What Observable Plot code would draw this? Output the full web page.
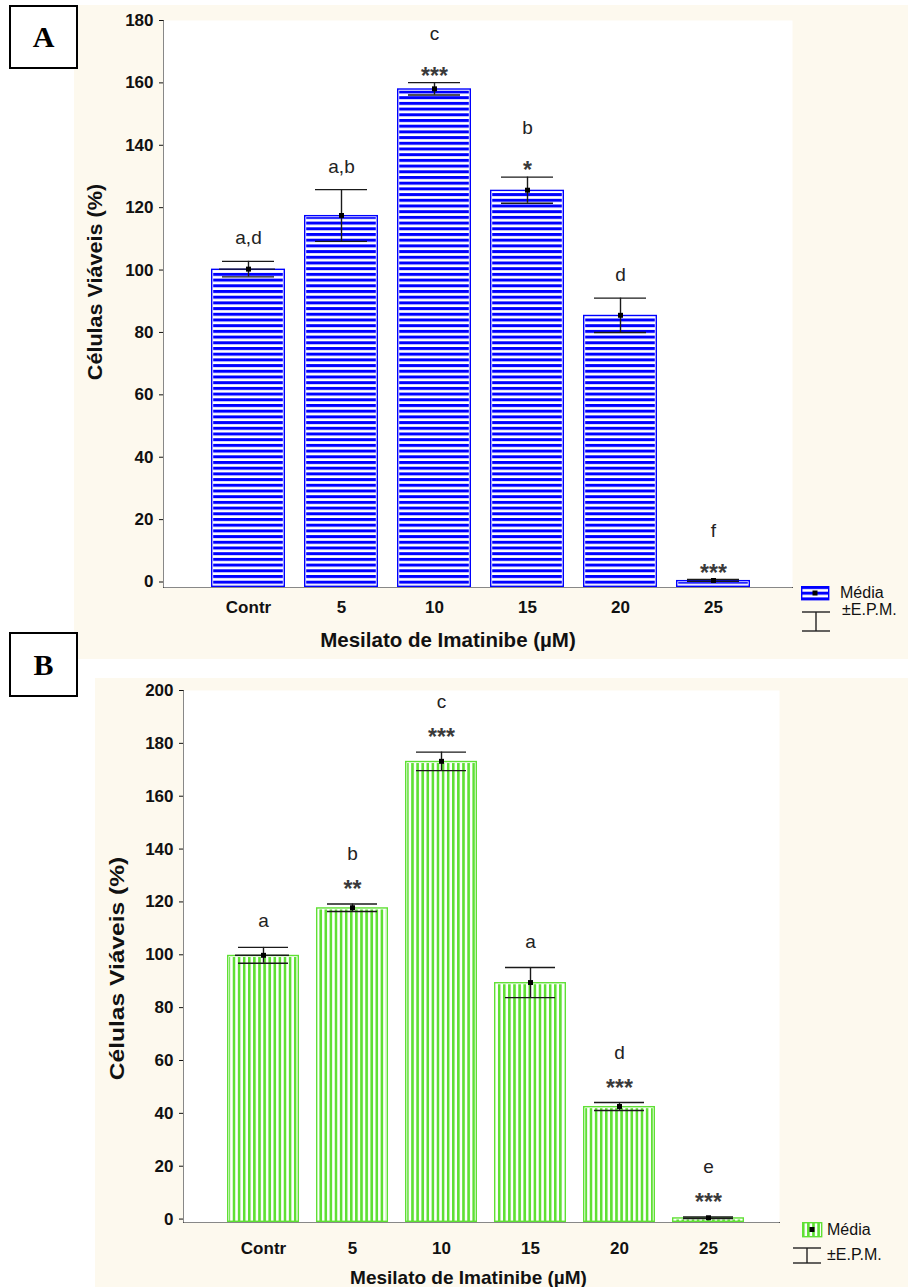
<!DOCTYPE html>
<html>
<head>
<meta charset="utf-8">
<script src="https://cdn.jsdelivr.net/npm/d3@7"></script>
<script src="https://cdn.jsdelivr.net/npm/@observablehq/plot@0.6"></script>
<style>
  body { margin: 0; background: #ffffff; font-family: "Liberation Sans", Arial, sans-serif; }
  #page { position: relative; width: 908px; height: 1287px; overflow: hidden; background: #ffffff; }
  .panel { position: absolute; background: #fdf9ee; }
  .panel svg { display: block; }
  .lbl { position: absolute; left: 9px; width: 65px; border: 2px solid #000; background: #fff;
         font: bold 30px "Liberation Serif", "Times New Roman", serif; color: #000;
         display: flex; align-items: center; justify-content: center; }
  .leg { position: absolute; font: 16px "Liberation Sans", Arial, sans-serif; color: #111; white-space: nowrap; line-height: 1; }
  .legsw { position: absolute; }
</style>
</head>
<body>
<div id="page">
  <div class="panel" id="panelA" style="left:74px;top:5px;width:834px;height:654px;"></div>
  <div class="panel" id="panelB" style="left:95px;top:678px;width:813px;height:609px;"></div>
  <div class="lbl" style="top:5px;height:60px;">A</div>
  <div class="lbl" style="top:632px;height:61px;">B</div>
</div>
<script>
// ---------- data ----------
const doses = ["Contr", "5", "10", "15", "20", "25"];

const meanA = [100.3, 117.5, 158.1, 125.6, 85.5, 0.5];
const semA  = [2.5, 8.3, 2.0, 4.2, 5.5, 0.3];
const lettersA = ["a,d", "a,b", "c", "b", "d", "f"];
const starsA   = ["", "", "***", "*", "", "***"];
const yTicksA  = [0, 20, 40, 60, 80, 100, 120, 140, 160, 180];

const meanB = [99.8, 117.8, 173.2, 89.5, 42.6, 0.5];
const semB  = [3.0, 1.4, 3.5, 5.7, 1.5, 0.3];
const lettersB = ["a", "b", "c", "a", "d", "e"];
const starsB   = ["", "**", "***", "", "***", "***"];
const yTicksB  = [0, 20, 40, 60, 80, 100, 120, 140, 160, 180, 200];

const xTitle = "Mesilato de Imatinibe (µM)";
const yTitle = "Células Viáveis (%)";
const legendLabels = ["Média", "±E.P.M."];

const blue = "#0000ff";
const green = "#5fe034";

function rows(mean, sem, letters, stars) {
  return doses.map((d, i) => ({
    dose: d, mean: mean[i], sem: sem[i],
    lo: mean[i] - sem[i], hi: mean[i] + sem[i],
    letter: letters[i], stars: stars[i]
  }));
}

function makePanel(cfg) {
  const data = rows(cfg.mean, cfg.sem, cfg.letters, cfg.stars);
  const ink = "#1a1a1a";
  const svg = Plot.plot({
    width: cfg.width, height: cfg.height,
    marginLeft: cfg.ml, marginRight: cfg.mr, marginTop: cfg.mt, marginBottom: cfg.mb,
    style: { background: "transparent", fontFamily: "'Liberation Sans', Arial, sans-serif",
             fontSize: "17px", fontWeight: "bold", color: "#111", overflow: "visible" },
    x: { domain: doses, paddingInner: cfg.pi, paddingOuter: cfg.po, align: cfg.align,
         tickSize: -5, tickPadding: cfg.xTickPad, line: true, label: null },
    y: { domain: [cfg.yMin, cfg.yMax], ticks: cfg.yTicks, tickSize: 4, tickPadding: 6,
         line: true, label: null },
    marks: [
      Plot.frame({ fill: "white", stroke: "none" }),
      Plot.barY(data, { x: "dose", y1: cfg.yMin, y2: "mean", fill: `url(#${cfg.pat})`,
                        insetLeft: 2.2, insetRight: 2.2, insetTop: 2.2 }),
      Plot.barY(data, { x: "dose", y1: cfg.yMin, y2: "mean", fill: "none", stroke: cfg.color,
                        strokeWidth: 1.4, inset: 0.7 }),
      Plot.ruleX(data, { x: "dose", y1: "lo", y2: "hi", stroke: ink, strokeWidth: 1.4 }),
      Plot.tickY(data, { x: "dose", y: "hi", stroke: ink, strokeWidth: 1.4, inset: cfg.capInset }),
      Plot.tickY(data, { x: "dose", y: "lo", stroke: ink, strokeWidth: 1.4, inset: cfg.capInset }),
      Plot.tickY(data.filter(d => d.dose === "Contr"),
                 { x: "dose", y: "mean", stroke: ink, strokeWidth: 1.4,
                   insetLeft: cfg.capInset - 3, insetRight: cfg.capInset - 1 }),
      Plot.dot(data, { x: "dose", y: "mean", symbol: "square", r: 2.8, fill: "#000", stroke: "none" }),
      Plot.text(data.filter(d => d.stars), { x: "dose", y: "hi", text: "stars", dy: cfg.dyStars,
                 fontSize: 23, fontWeight: "bold", fill: "#3a3a3a", lineAnchor: "middle" }),
      Plot.text(data.filter(d => d.stars), { x: "dose", y: "hi", text: "letter", dy: cfg.dyLetterS,
                 fontSize: 19, fontWeight: "normal", fill: "#222", lineAnchor: "middle" }),
      Plot.text(data.filter(d => !d.stars), { x: "dose", y: "hi", text: "letter", dy: cfg.dyLetter,
                 fontSize: 19, fontWeight: "normal", fill: "#222", lineAnchor: "middle" }),
      Plot.text([xTitle], { text: d => d, frameAnchor: "bottom", textAnchor: "middle", lineAnchor: "middle",
                 dx: cfg.xtDx, dy: cfg.xtDy, fontSize: cfg.titleSize, fontWeight: "bold", fill: "#111" }),
      Plot.text([yTitle], { text: d => d, frameAnchor: "left", rotate: -90, textAnchor: "middle", lineAnchor: "middle",
                 dx: cfg.ytDx, dy: cfg.ytDy, fontSize: cfg.yTitleSize, fontWeight: "bold", fill: "#111" })
    ]
  });
  // stretch the rotated y title along its reading direction, as in the original
  d3.select(svg).selectAll("text")
    .filter(function () { return this.textContent === yTitle; })
    .attr("transform", function () { return this.getAttribute("transform") + ` scale(${cfg.yTitleStretch},1)`; });
  document.getElementById(cfg.el).appendChild(svg);
  return svg;
}

const svgA = makePanel({
  el: "panelA", mean: meanA, sem: semA, letters: lettersA, stars: starsA,
  width: 834, height: 654, ml: 89, mr: 116, mt: 15, mb: 72,
  pi: 0.2, po: 0.453, align: 0.54, xTickPad: 18,
  yMin: -1.76, yMax: 180, yTicks: yTicksA,
  pat: "hA", color: blue, capInset: 11,
  dyStars: -6, dyLetterS: -49, dyLetter: -23,
  xtDx: -30, xtDy: 53, ytDx: -68, ytDy: -22, titleSize: 20.5, yTitleSize: 20, yTitleStretch: 1.08
});
const svgB = makePanel({
  el: "panelB", mean: meanB, sem: semB, letters: lettersB, stars: starsB,
  width: 813, height: 609, ml: 88, mr: 129, mt: 12, mb: 65,
  pi: 0.193, po: 0.437, align: 0.56, xTickPad: 24,
  yMin: -1.3, yMax: 200, yTicks: yTicksB,
  pat: "vB", color: green, capInset: 11,
  dyStars: -14, dyLetterS: -50, dyLetter: -26,
  xtDx: -13, xtDy: 55, ytDx: -66, ytDy: 12, titleSize: 19, yTitleSize: 21, yTitleStretch: 1.17
});

// stripe patterns
d3.select(svgA).insert("defs", ":first-child").html(
  `<pattern id="hA" patternUnits="userSpaceOnUse" width="10" height="5.7">
     <rect width="10" height="5.7" fill="#ffffff"/><rect width="10" height="3" fill="${blue}"/>
   </pattern>`);
d3.select(svgB).insert("defs", ":first-child").html(
  `<pattern id="vB" patternUnits="userSpaceOnUse" width="5.1" height="10">
     <rect width="5.1" height="10" fill="#ffffff"/><rect width="2.6" height="10" fill="${green}"/>
   </pattern>`);

// legends
function legend(o) {
  const page = d3.select("#page");
  const sw = page.append("svg").attr("class", "legsw").style("left", o.sx + "px").style("top", o.sy + "px")
    .attr("width", o.sw + 2).attr("height", o.sh + 2);
  sw.append("rect").attr("x", 0.7).attr("y", 0.7).attr("width", o.sw - 1).attr("height", o.sh - 1)
    .attr("fill", `url(#${o.pat})`).attr("stroke", o.color).attr("stroke-width", 1.4);
  sw.append("rect").attr("x", o.sw / 2 - 2.5).attr("y", o.sh / 2 - 2.5).attr("width", 5).attr("height", 5).attr("fill", "#000");
  page.append("div").attr("class", "leg").style("left", o.tx + "px").style("top", (o.sy + o.sh / 2 - 8) + "px").text(legendLabels[0]);
  const eb = page.append("svg").attr("class", "legsw").style("left", o.ex + "px").style("top", o.ey + "px")
    .attr("width", o.ew + 2).attr("height", o.eh + 2);
  const line = (x1, y1, x2, y2) => eb.append("line").attr("x1", x1).attr("y1", y1).attr("x2", x2).attr("y2", y2)
    .attr("stroke", "#222").attr("stroke-width", 1.4);
  line(1, 1, o.ew, 1); line(1, o.eh, o.ew, o.eh); line(o.ew / 2 + 0.5, 1, o.ew / 2 + 0.5, o.eh);
  page.append("div").attr("class", "leg").style("left", o.tx2 + "px").style("top", o.ty2 + "px").text(legendLabels[1]);
}
legend({ pat: "hA", color: blue, sx: 801, sy: 586, sw: 28, sh: 14, tx: 840,
         ex: 801, ey: 611, ew: 29, eh: 20, tx2: 842, ty2: 602 });
legend({ pat: "vB", color: green, sx: 802, sy: 1222, sw: 20, sh: 15, tx: 827,
         ex: 792, ey: 1247, ew: 29, eh: 16, tx2: 827, ty2: 1247 });
</script>
</body>
</html>
